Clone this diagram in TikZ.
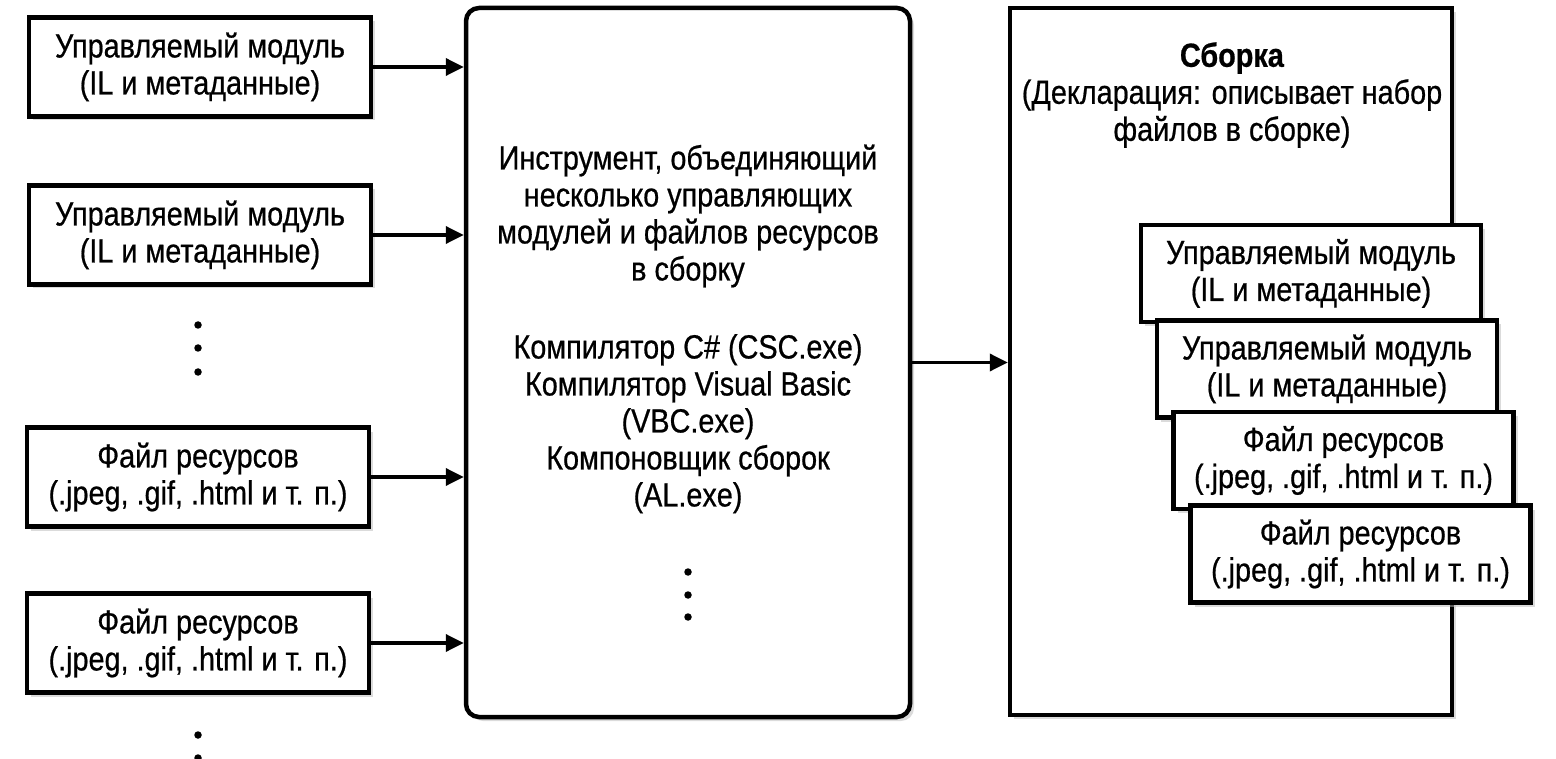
\documentclass[tikz,border=0pt]{standalone}
\usepackage{fontspec}
\setmainfont{Liberation Sans}[FakeStretch=0.86,FakeBold=0.6]
\usetikzlibrary{arrows.meta,shadows}
\begin{document}
\begin{tikzpicture}[x=1pt,y=-1pt,
  font=\fontsize{33.5}{37}\selectfont,
  shadowed/.style={drop shadow={shadow xshift=4pt,shadow yshift=-4pt,fill=black!28}},
  inbox/.style={draw,line width=4.5pt,fill=white,minimum width=342pt,minimum height=99pt,align=center,inner sep=0pt,shadowed},
  stackbox/.style={draw,line width=4.5pt,fill=white,minimum width=340pt,minimum height=97pt,align=center,inner sep=0pt,shadowed},
  bigbox/.style={draw,line width=4.5pt,fill=white,inner sep=0pt,shadowed},
  txt/.style={align=center,inner sep=0pt},
  dot/.style={circle,fill=black,inner sep=0pt,minimum size=7.5pt},
  conn/.style={line width=3.5pt,-{Triangle[length=18pt,width=17pt]}}
]
\useasboundingbox (0,0) rectangle (1556,759);

% left input boxes
\node[inbox] (m1) at (200,67) {Управляемый модуль\\(IL и метаданные)};
\node[inbox] (m2) at (200,235) {Управляемый модуль\\(IL и метаданные)};
\node[inbox] (r1) at (198,477) {Файл ресурсов\\(.jpeg, .gif, .html и т. п.)};
\node[inbox] (r2) at (198,643) {Файл ресурсов\\(.jpeg, .gif, .html и т. п.)};
\node[dot] (ld1) at (198,325) {};
\node[dot] (ld2) at (198,348) {};
\node[dot] (ld3) at (198,372) {};
\node[dot] (ld4) at (198,735) {};
\node[dot] (ld5) at (198,758) {};

% central tool box
\node[bigbox,rounded corners=13pt,minimum width=444pt,minimum height=709pt] (tool) at (688,362.5) {};
\node[txt] (tooltext) at (688,329) {Инструмент, объединяющий\\несколько управляющих\\модулей и файлов ресурсов\\в сборку\\[41pt]Компилятор C\# (CSC.exe)\\Компилятор Visual Basic\\(VBC.exe)\\Компоновщик сборок\\(AL.exe)};
\node[dot] (cd1) at (688,572) {};
\node[dot] (cd2) at (688,595) {};
\node[dot] (cd3) at (688,617) {};

% assembly box
\node[bigbox,minimum width=442pt,minimum height=707pt] (asm) at (1231,361.5) {};
\node[txt] (asmtext) at (1232,95) {\textbf{Сборка}\\(Декларация: описывает набор\\файлов в сборке)};
\node[stackbox] (a1) at (1311,273.5) {Управляемый модуль\\(IL и метаданные)};
\node[stackbox] (a2) at (1327,369) {Управляемый модуль\\(IL и метаданные)};
\node[stackbox] (a3) at (1343.5,460.5) {Файл ресурсов\\(.jpeg, .gif, .html и т. п.)};
\node[stackbox] (a4) at (1360.5,554) {Файл ресурсов\\(.jpeg, .gif, .html и т. п.)};

% connectors
\draw[conn] (m1.east) -- (tool.west |- m1.east);
\draw[conn] (m2.east) -- (tool.west |- m2.east);
\draw[conn] (r1.east) -- (tool.west |- r1.east);
\draw[conn] (r2.east) -- (tool.west |- r2.east);
\draw[conn] (tool.east) -- (asm.west |- tool.east);
\end{tikzpicture}
\end{document}
